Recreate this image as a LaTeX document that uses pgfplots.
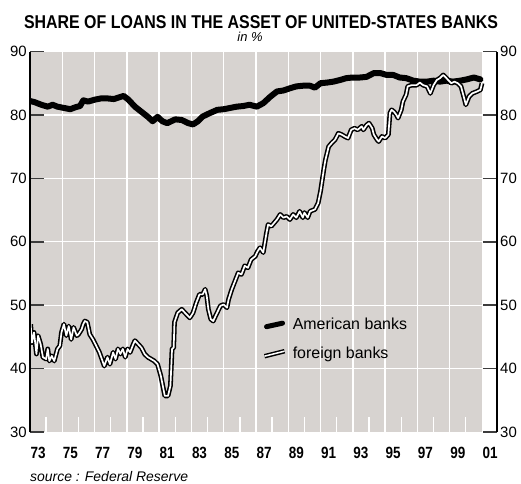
\documentclass[border=0pt]{standalone}
\usepackage{pgfplots}
\pgfplotsset{compat=1.18}
\usepackage{pgfplotstable}
\usepackage{graphicx}
\usepackage{fontspec}
\setmainfont{Liberation Sans}
\definecolor{bgc}{RGB}{215,211,208}
\definecolor{tickc}{RGB}{60,60,60}
\newcommand{\yl}[1]{\scalebox{0.83}[1]{\bfseries #1}}
\pgfplotsset{gl/.style={white, line width=1.3bp, forget plot}}

\pgfplotstableread{
year val
1973.0 82.2
1973.3 82.0
1973.7 81.6
1974.1 81.3
1974.4 81.6
1974.7 81.3
1975.1 81.1
1975.5 80.9
1975.8 81.2
1976.1 81.4
1976.3 82.3
1976.6 82.1
1977.0 82.4
1977.4 82.6
1977.8 82.6
1978.2 82.5
1978.8 83.0
1979.1 82.4
1979.5 81.3
1979.9 80.5
1980.3 79.7
1980.6 79.0
1980.9 79.7
1981.2 79.0
1981.5 78.7
1982.0 79.3
1982.4 79.2
1982.8 78.7
1983.1 78.5
1983.4 79.0
1983.7 79.75
1984.15 80.3
1984.6 80.8
1985.0 80.9
1985.4 81.1
1985.8 81.3
1986.2 81.4
1986.6 81.6
1987.05 81.3
1987.45 81.85
1987.9 82.9
1988.3 83.7
1988.7 83.85
1989.1 84.2
1989.5 84.5
1989.9 84.6
1990.35 84.6
1990.65 84.3
1991.0 85.0
1991.4 85.1
1991.8 85.25
1992.2 85.5
1992.6 85.8
1993.0 85.9
1993.45 85.9
1993.85 86.0
1994.3 86.6
1994.7 86.6
1995.1 86.3
1995.5 86.3
1995.9 85.9
1996.3 85.8
1996.75 85.4
1997.15 85.25
1997.6 85.25
1998.0 85.4
1998.4 85.25
1998.8 85.4
1999.2 85.25
1999.65 85.4
2000.05 85.6
2000.5 85.9
2000.9 85.6
}\american

\pgfplotstableread{
year val
1973.04 47.0
1973.12 44.1
1973.25 45.7
1973.4 42.3
1973.5 45.2
1973.66 43.85
1973.8 41.8
1974.0 41.5
1974.1 43.1
1974.2 41.2
1974.35 42.0
1974.5 41.2
1974.7 43.1
1974.85 43.6
1974.95 45.7
1975.1 47.0
1975.25 45.2
1975.4 46.7
1975.55 44.6
1975.7 46.5
1975.9 45.2
1976.0 45.4
1976.2 46.2
1976.3 47.0
1976.4 47.5
1976.55 47.3
1976.7 45.4
1976.9 44.6
1977.1 43.6
1977.3 42.55
1977.45 41.5
1977.6 40.4
1977.8 41.8
1977.95 40.7
1978.15 42.55
1978.3 41.5
1978.45 43.1
1978.6 42.3
1978.75 43.1
1978.9 41.8
1979.05 43.1
1979.2 42.55
1979.4 43.85
1979.5 44.4
1979.7 43.85
1979.9 43.3
1980.1 42.3
1980.3 41.8
1980.5 41.5
1980.7 41.2
1980.9 40.7
1981.1 38.9
1981.35 35.7
1981.55 35.7
1981.7 37.3
1981.8 43.1
1981.9 43.3
1981.95 47.3
1982.15 48.8
1982.4 49.35
1982.6 48.8
1982.9 48.0
1983.1 48.8
1983.3 50.4
1983.5 51.7
1983.7 51.7
1983.85 52.5
1983.95 51.45
1984.05 49.35
1984.2 47.8
1984.35 47.5
1984.55 48.6
1984.8 49.9
1985.0 50.1
1985.2 49.6
1985.3 50.9
1985.5 52.5
1985.7 53.8
1985.9 55.1
1986.1 54.85
1986.3 56.2
1986.5 55.9
1986.7 57.2
1986.95 57.7
1987.1 58.5
1987.25 59.05
1987.45 58.3
1987.65 61.4
1987.75 62.7
1987.95 62.45
1988.3 63.5
1988.5 64.3
1988.7 63.8
1988.9 64.0
1989.1 63.5
1989.3 64.3
1989.5 63.8
1989.7 64.8
1989.9 63.8
1990.0 64.6
1990.2 63.8
1990.35 64.8
1990.65 65.1
1990.85 66.1
1991.0 68.0
1991.2 71.4
1991.3 72.9
1991.5 75.0
1991.7 75.6
1991.9 76.1
1992.1 77.1
1992.3 76.9
1992.5 76.6
1992.7 76.35
1992.9 77.65
1993.1 77.9
1993.3 77.65
1993.55 78.2
1993.65 77.65
1993.85 78.4
1994.0 78.7
1994.2 77.9
1994.3 76.9
1994.5 76.1
1994.6 75.8
1994.8 76.6
1995.0 76.35
1995.2 76.9
1995.3 80.3
1995.4 80.8
1995.55 80.5
1995.7 80.0
1995.8 79.5
1996.0 80.8
1996.1 82.1
1996.3 83.2
1996.4 84.5
1996.65 84.7
1996.95 84.7
1997.15 85.1
1997.35 84.7
1997.6 84.5
1997.8 83.4
1998.0 84.7
1998.2 85.5
1998.4 85.8
1998.6 86.3
1998.8 85.8
1998.9 85.5
1999.1 85.0
1999.3 85.25
1999.5 85.0
1999.7 84.5
1999.9 82.6
2000.0 81.6
2000.2 82.9
2000.4 83.4
2000.7 83.7
2000.9 83.95
2001.0 85.0
}\foreign

\begin{document}
\begin{tikzpicture}
\node[anchor=base] at (261bp,455.7bp) {\scalebox{0.86}[1]{\fontsize{18.6}{20}\selectfont\bfseries SHARE OF LOANS IN THE ASSET OF UNITED-STATES BANKS}};
\node[anchor=base, inner sep=0pt] at (250bp,442.5bp) {\fontsize{13}{14}\selectfont\itshape in \%};
\node[anchor=base west, inner sep=0pt] at (30bp,2.5bp) {\fontsize{14}{16}\selectfont\itshape source : Federal Reserve};

\begin{axis}[
  at={(30bp,52bp)}, anchor=south west,
  scale only axis, width=467bp, height=380.5bp,
  xmin=1973, xmax=2001.93, ymin=30, ymax=90,
  axis on top=true,
  separate axis lines,
  x axis line style={draw=none},
  y axis line style={draw=black, line width=1.4bp},
  xtick={1973.5,1975.5,...,2001.5},
  xticklabels={\yl{73},\yl{75},\yl{77},\yl{79},\yl{81},\yl{83},\yl{85},\yl{87},\yl{89},\yl{91},\yl{93},\yl{95},\yl{97},\yl{99},\yl{01}},
  xticklabel style={anchor=base, yshift=-26bp, inner sep=0pt, font=\fontsize{16.3}{18}\selectfont},
  every major x tick/.style={draw=none},
  xtick pos=bottom,
  tick align=inside,
  ytick={30,40,...,90},
  ytick pos=left,
  major tick length=14bp,
  every major y tick/.style={draw=tickc, line width=1.6bp},
  yticklabel style={inner sep=0pt, xshift=-3bp, font=\fontsize{15}{16}\selectfont},
  /pgf/number format/assume math mode=true,
  legend style={at={(0.497,0.305)}, anchor=north west, draw=none, fill=none,
    font=\fontsize{16}{18}\selectfont, row sep=12bp, inner sep=0pt,
    cells={anchor=west}},
  legend cell align=left,
]
\addplot[fill=bgc, draw=none, forget plot] coordinates {(1973,30) (2001,30) (2001,90) (1973,90)} -- cycle;
\addplot[gl] coordinates {(1975,30) (1975,90)};
\addplot[gl] coordinates {(1977,30) (1977,90)};
\addplot[gl] coordinates {(1979,30) (1979,90)};
\addplot[gl] coordinates {(1981,30) (1981,90)};
\addplot[gl] coordinates {(1983,30) (1983,90)};
\addplot[gl] coordinates {(1985,30) (1985,90)};
\addplot[gl] coordinates {(1987,30) (1987,90)};
\addplot[gl] coordinates {(1989,30) (1989,90)};
\addplot[gl] coordinates {(1991,30) (1991,90)};
\addplot[gl] coordinates {(1993,30) (1993,90)};
\addplot[gl] coordinates {(1995,30) (1995,90)};
\addplot[gl] coordinates {(1997,30) (1997,90)};
\addplot[gl] coordinates {(1999,30) (1999,90)};
\addplot[gl] coordinates {(1973,40) (2001,40)};
\addplot[gl] coordinates {(1973,50) (2001,50)};
\addplot[gl] coordinates {(1973,60) (2001,60)};
\addplot[gl] coordinates {(1973,70) (2001,70)};
\addplot[gl] coordinates {(1973,80) (2001,80)};
\addplot[gl] coordinates {(1974,30) (1974,32.4)};
\addplot[gl] coordinates {(1976,30) (1976,32.4)};
\addplot[gl] coordinates {(1978,30) (1978,32.4)};
\addplot[gl] coordinates {(1980,30) (1980,32.4)};
\addplot[gl] coordinates {(1982,30) (1982,32.4)};
\addplot[gl] coordinates {(1984,30) (1984,32.4)};
\addplot[gl] coordinates {(1986,30) (1986,32.4)};
\addplot[gl] coordinates {(1988,30) (1988,32.4)};
\addplot[gl] coordinates {(1990,30) (1990,32.4)};
\addplot[gl] coordinates {(1992,30) (1992,32.4)};
\addplot[gl] coordinates {(1994,30) (1994,32.4)};
\addplot[gl] coordinates {(1996,30) (1996,32.4)};
\addplot[gl] coordinates {(1998,30) (1998,32.4)};
\addplot[gl] coordinates {(2000,30) (2000,32.4)};
\addplot[black, line width=6bp, line join=round, line cap=round, forget plot] table[x=year, y=val] {\american};
\addplot[black, line width=4.8bp, line join=round, forget plot] table[x=year, y=val] {\foreign};
\addplot[white, line width=1.7bp, line join=round, forget plot] table[x=year, y=val] {\foreign};
\addlegendimage{legend image code/.code={\draw[black, line width=5bp, line cap=round] (3bp,-2bp) -- (19bp,1.5bp);}}
\addlegendentry{\hspace*{4bp}American banks}
\addlegendimage{legend image code/.code={\draw[black, line width=4.5bp] (1bp,-2.5bp) -- (21bp,2.5bp); \draw[white, line width=1.5bp] (1bp,-2.5bp) -- (21bp,2.5bp);}}
\addlegendentry{\hspace*{4bp}foreign banks}
\end{axis}

\begin{axis}[
  at={(30bp,52bp)}, anchor=south west,
  scale only axis, width=467bp, height=380.5bp,
  xmin=1973, xmax=2001.93, ymin=30, ymax=90,
  axis x line=none,
  axis y line*=right,
  y axis line style={draw=black, line width=1.4bp, -},
  xtick=\empty,
  ytick={30,40,...,90},
  tick align=inside,
  major tick length=14bp,
  every major y tick/.style={draw=tickc, line width=1.6bp},
  yticklabel style={inner sep=0pt, xshift=3bp, font=\fontsize{15}{16}\selectfont},
  /pgf/number format/assume math mode=true,
]
\addplot[draw=none, forget plot] coordinates {(1973,30) (2001,90)};
\end{axis}
\pgfresetboundingbox
\path[use as bounding box] (0,0) rectangle (521bp,484bp);
\end{tikzpicture}
\end{document}
